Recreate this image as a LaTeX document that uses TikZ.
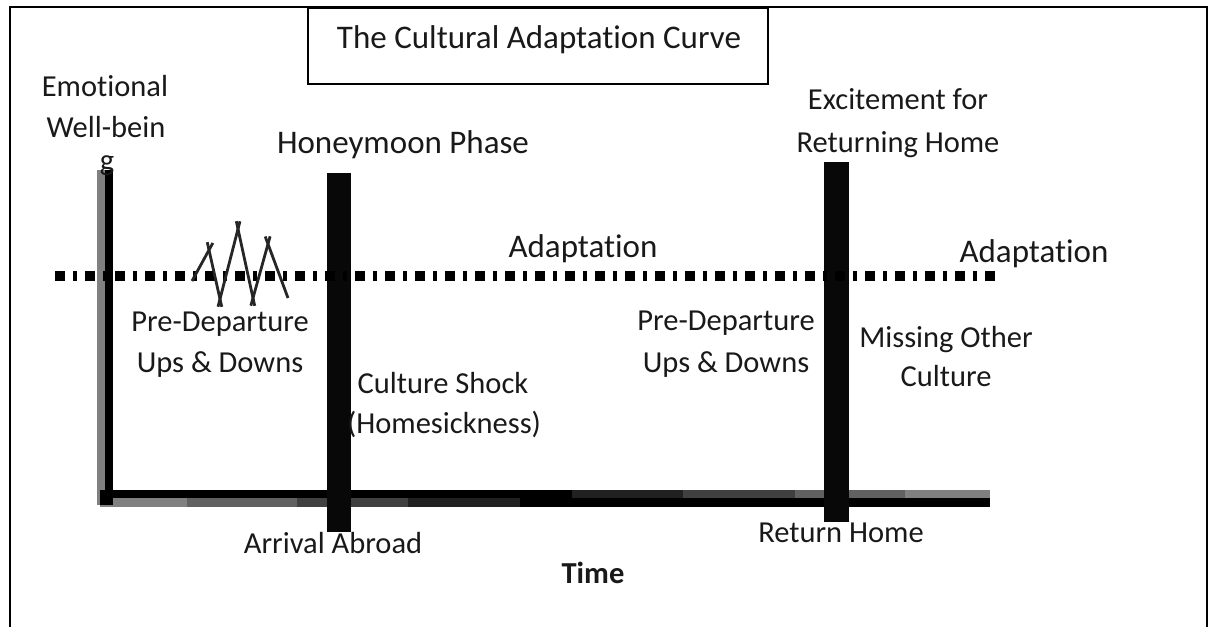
\documentclass[tikz,border=0pt]{standalone}
\usepackage{fontspec}
\setmainfont{Carlito}[Ligatures=NoCommon,RawFeature={-liga;-clig}]
\usetikzlibrary{calc}
\begin{document}
\begin{tikzpicture}[x=1pt,y=-1pt,
  lbl/.style={anchor=base,inner sep=0pt,text=black!90,font=\fontsize{30.5}{36}\selectfont},
  big/.style={anchor=base,inner sep=0pt,text=black!90,font=\fontsize{33}{38}\selectfont},
  frame/.style={line width=1.5pt,draw=black},
  bar/.style={fill=black!97,draw=none},
  zig/.style={line width=2.8pt,draw=black!85,line cap=butt}]
\useasboundingbox (0,0) rectangle (1210,627);
% outer frame and title box
\draw[frame] (10,627) -- (10,7) -- (1207,7) -- (1207,627);
\node[draw=black,line width=1.5pt,minimum width=460pt,minimum height=76pt,inner sep=0pt,anchor=north west] (titlebox) at (307,7) {};
\node[big] (title) at (539,48) {The Cultural Adaptation Curve};
% vertical axis
\fill[black!50] (97,170) rectangle (105,505);
\fill[black] (105,170) rectangle (113,503);
% horizontal axis, upper strip
\fill[black] (100,490) rectangle (572,498);
\fill[black!87] (572,490) rectangle (683,498);
\fill[black!75] (683,490) rectangle (795,498);
\fill[black!62] (795,490) rectangle (905,498);
\fill[black!50] (905,490) rectangle (990,498);
% horizontal axis, lower strip
\fill[black!50] (100,498) rectangle (187,507);
\fill[black!62] (187,498) rectangle (297,507);
\fill[black!75] (297,498) rectangle (408,507);
\fill[black!87] (408,498) rectangle (520,507);
\fill[black] (520,498) rectangle (990,507);
\fill[black] (100,490) rectangle (113,505);
% phase bars
\fill[bar] (327,173) rectangle (351,532);
\fill[bar] (824,162) rectangle (849,522);
% adaptation level line
\draw[line width=10pt,dash pattern=on 10pt off 8pt on 3.5pt off 8.5pt] (55,276) -- (997,276);
% zigzag
\coordinate (v1) at (192,281);
\coordinate (v2) at (209,250);
\coordinate (v3) at (220,299);
\coordinate (v4) at (238,229);
\coordinate (v5) at (253,298);
\coordinate (v6) at (268,244);
\coordinate (v7) at (288,298);
\draw[zig] (v1) -- ($(v2)!-8pt!(v1)$);
\draw[zig] ($(v2)!-8pt!(v3)$) -- ($(v3)!-8pt!(v2)$);
\draw[zig] ($(v3)!-8pt!(v4)$) -- ($(v4)!-8pt!(v3)$);
\draw[zig] ($(v4)!-8pt!(v5)$) -- ($(v5)!-8pt!(v4)$);
\draw[zig] ($(v5)!-8pt!(v6)$) -- ($(v6)!-8pt!(v5)$);
\draw[zig] ($(v6)!-8pt!(v7)$) -- (v7);
% labels
\node[lbl] (emo1) at (105,96) {Emotional};
\node[lbl] (emo2) at (106,137) {Well-bein};
\node[lbl] (emo3) at (107,170) {g};
\node[big] (honey) at (403,153) {Honeymoon Phase};
\node[lbl] (exc1) at (898,109) {Excitement for};
\node[lbl] (exc2) at (898,152) {Returning Home};
\node[big] (adapt1) at (583,257) {Adaptation};
\node[big] (adapt2) at (1034,262) {Adaptation};
\node[lbl] (pre1a) at (220,331) {Pre-Departure};
\node[lbl] (pre1b) at (220,372) {Ups \& Downs};
\node[lbl] (shock1) at (443,393) {Culture Shock};
\node[lbl] (shock2) at (444,433) {(Homesickness)};
\node[lbl] (pre2a) at (726,330) {Pre-Departure};
\node[lbl] (pre2b) at (726,372) {Ups \& Downs};
\node[lbl] (miss1) at (946,347) {Missing Other};
\node[lbl] (miss2) at (946,386) {Culture};
\node[lbl] (arr) at (333,553) {Arrival Abroad};
\node[lbl] (ret) at (841,542) {Return Home};
\node[lbl,font=\fontsize{30.5}{36}\selectfont\bfseries] (time) at (593,583) {Time};
\end{tikzpicture}
\end{document}
